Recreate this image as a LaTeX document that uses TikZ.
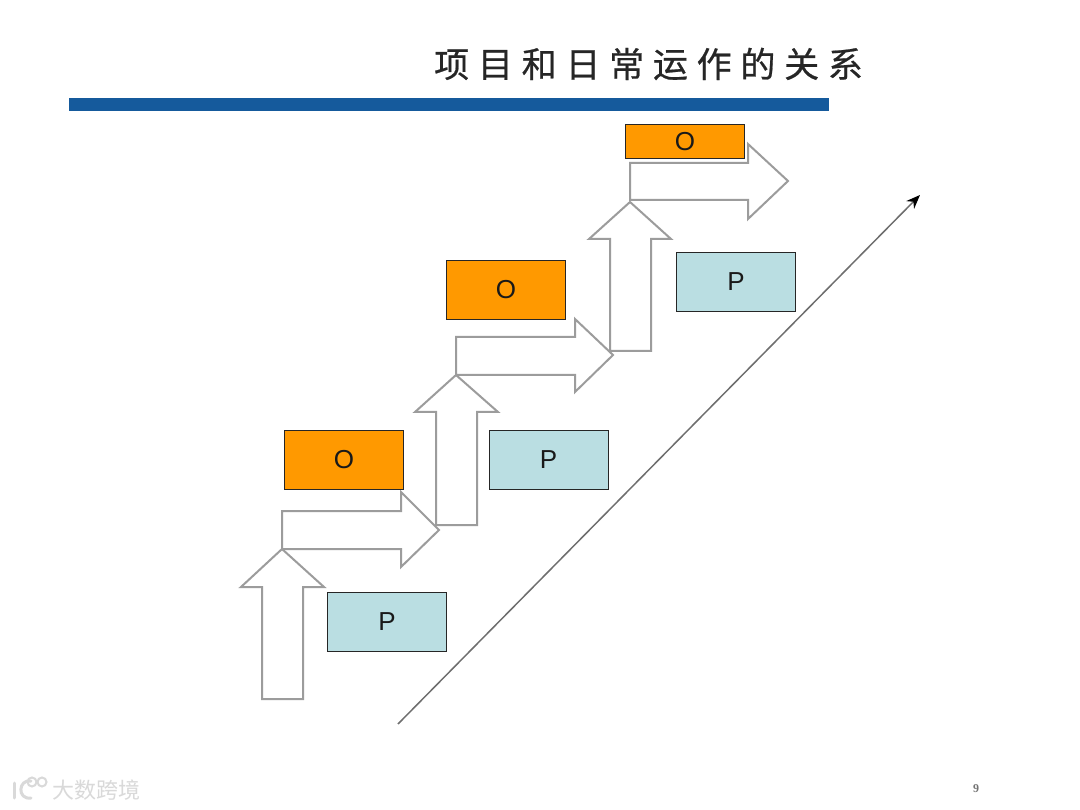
\documentclass[tikz,border=0pt]{standalone}
\usepackage{fontspec}
\setmainfont{Liberation Sans}
\newfontfamily\cjktitle[LetterSpace=25,FakeBold=0.6]{Noto Sans CJK SC}
\newfontfamily\cjkmark{Noto Sans CJK SC}
\newfontfamily\pagefont{Liberation Serif}
\usetikzlibrary{arrows.meta}
\definecolor{barblue}{HTML}{155A9C}
\definecolor{opbox}{HTML}{FF9900}
\definecolor{pbox}{HTML}{BADEE2}
\definecolor{arrowgray}{HTML}{9C9C9C}
\definecolor{linegray}{HTML}{6E6E6E}
\definecolor{markgray}{HTML}{D9D9D9}
\tikzset{
  bigarrow/.style={draw=arrowgray,line width=2pt,fill=white,line join=miter},
  lab/.style={draw=black!85,line width=1pt,minimum width=119pt,font=\fontsize{26}{28}\selectfont,inner sep=0pt,text=black!90},
  opnode/.style={lab,fill=opbox,minimum height=59pt},
  pnode/.style={lab,fill=pbox,minimum height=59pt},
  trend/.style={draw=linegray,line width=1.5pt,-{Stealth[length=14pt,width=11pt,black]}}
}
\begin{document}
\begin{tikzpicture}[x=1pt,y=-1pt]
\useasboundingbox (0,0) rectangle (1080,810);
\fill[white] (0,0) rectangle (1080,810);
% title and bar
\node[anchor=west,inner sep=0pt,text=black!85,font=\cjktitle\fontsize{35}{38}\selectfont] (title) at (434,64) {项目和日常运作的关系};
\fill[barblue] (69,98) rectangle (829,111);
% arrows
\draw[bigarrow] (282,549) -- (324,587) -- (303,587) -- (303,699) -- (262,699) -- (262,587) -- (241,587) -- cycle;
\draw[bigarrow] (282,549) -- (282,511) -- (401,511) -- (401,492) -- (439,530) -- (401,567) -- (401,549) -- cycle;
\draw[bigarrow] (456,375) -- (498,412) -- (477,412) -- (477,525) -- (436,525) -- (436,412) -- (415,412) -- cycle;
\draw[bigarrow] (456,375) -- (456,337) -- (575,337) -- (575,319) -- (613,355) -- (575,392) -- (575,375) -- cycle;
\draw[bigarrow] (630,202) -- (671,239) -- (651,239) -- (651,351) -- (610,351) -- (610,239) -- (589,239) -- cycle;
\draw[bigarrow] (630,200) -- (630,163) -- (748,163) -- (748,144) -- (788,181) -- (748,219) -- (748,200) -- cycle;
% boxes
\node[lab,fill=opbox,minimum height=34pt] (o3) at (685,141.5) {O};
\node[opnode] (o2) at (506,290) {O};
\node[opnode] (o1) at (344,460) {O};
\node[pnode] (p3) at (736,282) {P};
\node[pnode] (p2) at (548.5,460) {P};
\node[pnode] (p1) at (387,622) {P};
% trend line
\coordinate (ts) at (398,724);
\coordinate (te) at (920,195);
\draw[trend] (ts) -- (te);
% watermark
\begin{scope}[draw=markgray,line width=3pt,line cap=round]
\draw (14,783) -- (14,798);
\draw (31,781) .. controls (18,779) and (17,800) .. (31,798);
\end{scope}
\begin{scope}[draw=markgray,line width=2pt]
\draw (32,782) circle (4.5);
\draw (42,782) circle (4.5);
\end{scope}
\node[anchor=west,inner sep=0pt,text=markgray,font=\cjkmark\fontsize{22}{24}\selectfont] (mark) at (52,790) {大数跨境};
\node[inner sep=0pt,text=black!55,font=\pagefont\bfseries\fontsize{12}{14}\selectfont] (page) at (976,789) {9};
\end{tikzpicture}
\end{document}
